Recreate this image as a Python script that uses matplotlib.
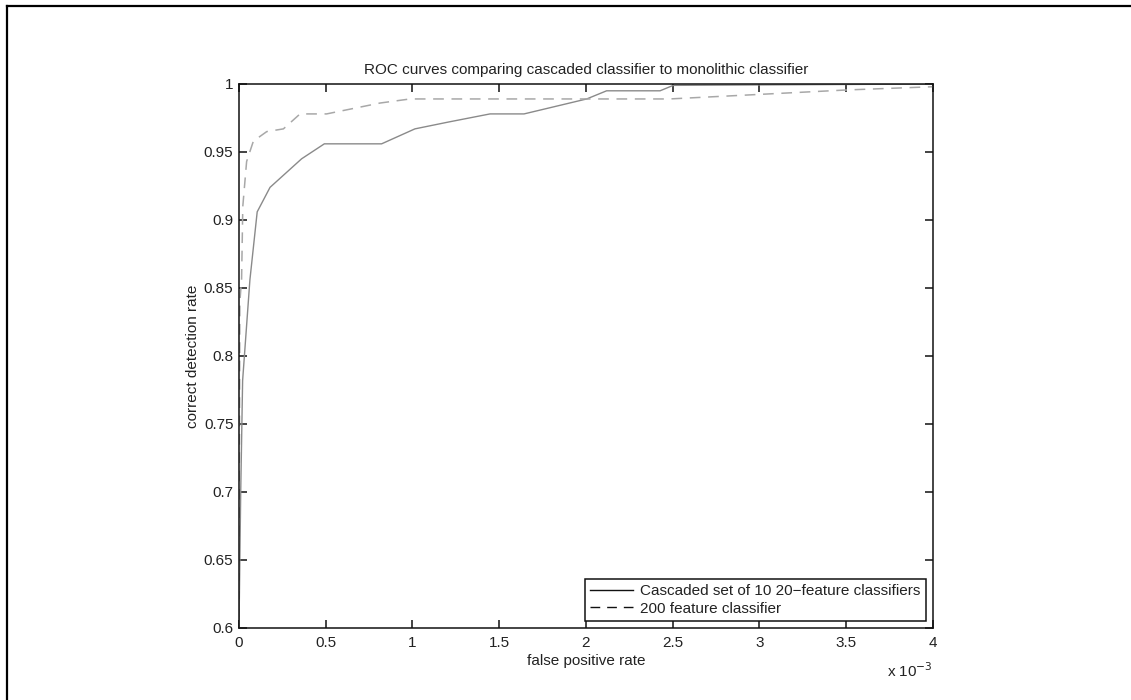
import matplotlib
matplotlib.use('Agg')
import matplotlib.pyplot as plt
from matplotlib.lines import Line2D
from matplotlib.ticker import FuncFormatter

plt.rcParams['font.family'] = ['Liberation Sans', 'DejaVu Sans']

# false positive rate in units of 1e-3, detection rate
cascade_fp = [0.0, 0.01, 0.021, 0.063, 0.105, 0.179, 0.361, 0.492, 0.822, 1.014,
              1.206, 1.447, 1.643, 2.004, 2.119, 2.427, 2.503, 4.0]
cascade_dr = [0.6, 0.7, 0.782, 0.856, 0.906, 0.924, 0.945, 0.956, 0.956, 0.967,
              0.972, 0.978, 0.978, 0.989, 0.995, 0.995, 0.999, 1.0]

mono_fp = [0.0, 0.005, 0.015, 0.022, 0.044, 0.083, 0.16, 0.256, 0.352, 0.505,
           0.813, 0.986, 2.48, 2.945, 3.5, 4.0]
mono_dr = [0.6, 0.84, 0.856, 0.91, 0.943, 0.958, 0.965, 0.967, 0.978, 0.978,
           0.986, 0.989, 0.989, 0.992, 0.9956, 0.998]

x_ticks = [0, 0.5, 1, 1.5, 2, 2.5, 3, 3.5, 4]
y_ticks = [0.6, 0.65, 0.7, 0.75, 0.8, 0.85, 0.9, 0.95, 1.0]

txt = '#222222'
fs = 11

fig = plt.figure(figsize=(11.31, 7.0), dpi=100)
ax = fig.add_axes([0.2113, 0.1029, 0.6136, 0.7771])

ax.plot(cascade_fp, cascade_dr, color='#8a8a8a', lw=1.0, solid_joinstyle='miter')
ax.plot(mono_fp, mono_dr, color='#a8a8a8', lw=1.1, dashes=(7, 5))

ax.set_xlim(0, 4)
ax.set_ylim(0.6, 1.0)
ax.set_xticks(x_ticks)
ax.set_yticks(y_ticks)
ax.xaxis.set_major_formatter(FuncFormatter(lambda v, p: '%g' % v))
ax.yaxis.set_major_formatter(FuncFormatter(lambda v, p: '%g' % round(v, 2)))
ax.tick_params(direction='in', top=True, right=True, length=5.5, width=1.1,
               labelsize=fs, labelcolor=txt, color='#111111')
ax.tick_params(axis='x', pad=6)
ax.tick_params(axis='y', pad=4)
for s in ax.spines.values():
    s.set_linewidth(1.1)
    s.set_color('#111111')

ax.set_title('ROC curves comparing cascaded classifier to monolithic classifier',
             fontsize=fs, color=txt, pad=7)
ax.set_xlabel('false positive rate', fontsize=fs, color=txt, labelpad=3)
ax.set_ylabel('correct detection rate', fontsize=fs, color=txt, labelpad=3)
ax.text(1.0, -0.062, r'x 10$^{-3}$', transform=ax.transAxes, ha='right', va='top',
        fontsize=fs, color=txt)

handles = [Line2D([], [], color='#111111', lw=1.0),
           Line2D([], [], color='#111111', lw=1.0, dashes=(7, 5))]
leg = ax.legend(handles, ['Cascaded set of 10 20\u2212feature classifiers', '200 feature classifier'],
                loc='lower right', fontsize=fs, fancybox=False, framealpha=1,
                edgecolor='#111111', borderaxespad=0.45, labelspacing=0.25,
                handlelength=2.8, handletextpad=0.5, borderpad=0.35)
leg.get_frame().set_linewidth(1.1)
for t in leg.get_texts():
    t.set_color(txt)

# page frame: top and left edges only
fig.add_artist(Line2D([7 / 1131, 1.0], [1 - 6 / 700, 1 - 6 / 700], color='black', lw=1.6))
fig.add_artist(Line2D([7 / 1131, 7 / 1131], [0, 1 - 6 / 700], color='black', lw=1.6))

fig.savefig('out.png', dpi=100)
